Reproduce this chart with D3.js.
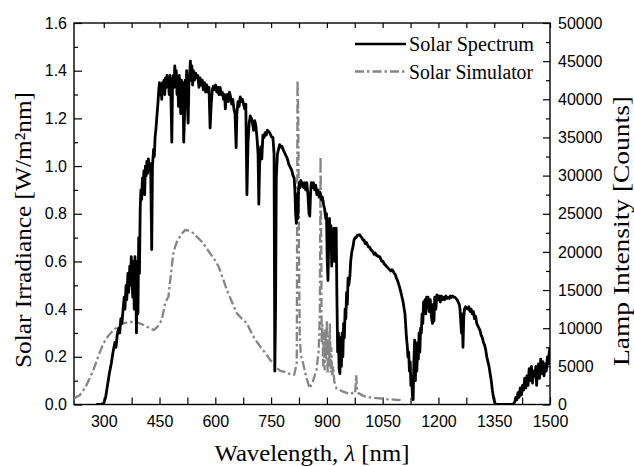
<!DOCTYPE html>
<html><head><meta charset="utf-8">
<script src="https://cdn.jsdelivr.net/npm/d3@7"></script>
<style>
body{margin:0;background:#fff;}
svg{display:block;}
.tick text{font-family:"Liberation Sans",Arial,sans-serif;font-size:16px;fill:#000;}
</style></head>
<body>
<svg id="chart" width="634" height="466"></svg>
<script>
// ---- Data ----
const specWavelength = [280,290,300,305,310,315,320,325,330,333,336,340,343,346,349,352,355,357,360,362,365,367,370,372,374,376,378,380,382,384,386,388,390,392,394,396,398,400,402,404,406,408,410,412,414,416,418,420,423,426,429,431,434,436,438,440,443,446,448,450,452,454,456,458,460,462,464,466,468,470,472,474,476,478,480,483,485,487,489,491,493,495,497,499,501,503,505,507,509,511,513,515,517,519,521,523,525,527,529,531,533,535,537,539,541,544,547,550,553,556,559,562,565,568,571,574,577,580,583,586,589,592,595,598,601,604,607,610,613,616,619,622,625,627,629,632,635,638,641,644,647,650,653,656,658,661,664,667,670,673,676,679,682,685,688,691,694,697,700,703,706,709,712,715,717,719,722,725,728,731,734,737,740,743,746,749,752,755,758,760,762,764,767,770,773,776,779,782,785,788,791,794,797,800,803,806,809,812,814,816,818,820,822,824,826,828,830,832,834,837,840,843,846,849,852,854,856,858,861,864,867,870,873,876,879,882,885,888,891,894,897,899,901,903,905,907,909,911,913,915,917,919,921,923,925,927,929,931,933,935,937,939,941,943,945,947,949,951,953,955,957,959,962,964,967,970,973,976,979,982,985,988,991,994,997,1000,1003,1006,1009,1012,1015,1018,1021,1024,1027,1030,1033,1036,1039,1042,1045,1048,1051,1054,1057,1060,1063,1066,1069,1072,1075,1078,1081,1084,1087,1090,1093,1096,1099,1102,1105,1108,1110,1112,1114,1116,1118,1120,1122,1124,1126,1128,1130,1132,1134,1136,1138,1140,1142,1144,1146,1148,1150,1152,1154,1156,1158,1160,1162,1164,1166,1168,1170,1172,1175,1178,1181,1184,1186,1188,1190,1193,1196,1199,1202,1205,1208,1211,1214,1217,1220,1223,1226,1229,1232,1235,1238,1241,1244,1247,1250,1253,1256,1258,1260,1262,1264,1266,1268,1270,1273,1276,1279,1282,1285,1288,1291,1294,1297,1300,1303,1306,1309,1312,1315,1318,1321,1324,1327,1330,1333,1336,1339,1342,1345,1348,1351,1354,1400,1405,1408,1411,1414,1417,1420,1423,1426,1429,1432,1435,1438,1441,1444,1447,1450,1453,1456,1459,1462,1464,1466,1469,1472,1475,1478,1481,1484,1487,1490,1493,1496,1498,1500];
const specIrradiance = [0,0,0.005,0.03,0.08,0.13,0.17,0.22,0.26,0.24,0.29,0.32,0.30,0.36,0.34,0.40,0.45,0.40,0.50,0.44,0.55,0.47,0.58,0.50,0.62,0.52,0.45,0.60,0.40,0.62,0.50,0.30,0.60,0.38,0.70,0.55,0.82,0.90,0.86,0.95,0.91,0.98,0.88,1.00,0.96,1.02,0.97,1.03,0.98,1.01,0.65,1.00,1.07,1.04,1.12,1.15,1.21,1.27,1.32,1.35,1.30,1.33,1.28,1.35,1.32,1.36,1.30,1.37,1.33,1.38,1.34,1.36,1.30,1.38,1.35,1.10,1.34,1.38,1.33,1.42,1.38,1.40,1.30,1.36,1.25,1.38,1.33,1.22,1.36,1.30,1.35,1.10,1.20,1.36,1.30,1.40,1.25,1.18,1.35,1.38,1.44,1.36,1.42,1.34,1.40,1.36,1.39,1.37,1.38,1.33,1.37,1.34,1.36,1.32,1.35,1.31,1.34,1.31,1.33,1.16,1.26,1.32,1.335,1.32,1.34,1.31,1.33,1.30,1.33,1.30,1.31,1.28,1.30,1.24,1.29,1.30,1.27,1.31,1.29,1.26,1.28,1.24,1.22,1.077,1.22,1.27,1.25,1.29,1.27,1.28,1.26,1.24,1.26,0.88,1.10,1.18,1.21,1.20,1.18,1.15,1.19,1.17,1.12,1.05,0.84,1.00,1.08,1.03,1.13,1.12,1.14,1.13,1.15,1.146,1.14,1.13,1.12,1.12,1.05,0.14,0.40,0.95,1.05,1.07,1.09,1.08,1.083,1.07,1.06,1.05,1.04,1.03,1.01,1.00,0.99,0.98,0.96,0.95,0.90,0.80,0.76,0.88,0.78,0.90,0.93,0.91,0.94,0.92,0.93,0.91,0.93,0.90,0.93,0.88,0.80,0.79,0.88,0.93,0.91,0.93,0.90,0.92,0.88,0.90,0.87,0.89,0.86,0.87,0.84,0.82,0.78,0.80,0.60,0.52,0.68,0.78,0.66,0.75,0.58,0.70,0.62,0.74,0.60,0.68,0.74,0.45,0.22,0.30,0.15,0.13,0.28,0.16,0.30,0.20,0.34,0.28,0.40,0.36,0.47,0.42,0.53,0.50,0.54,0.60,0.64,0.66,0.69,0.70,0.70,0.71,0.71,0.712,0.705,0.70,0.69,0.69,0.675,0.68,0.67,0.66,0.66,0.65,0.645,0.64,0.63,0.635,0.625,0.625,0.62,0.62,0.61,0.60,0.60,0.59,0.585,0.58,0.575,0.57,0.565,0.56,0.565,0.56,0.55,0.545,0.53,0.52,0.505,0.49,0.47,0.45,0.43,0.40,0.38,0.33,0.28,0.25,0.20,0.22,0.14,0.18,0.08,0.12,0.04,0.02,0.18,0.27,0.10,0.25,0.14,0.26,0.19,0.30,0.22,0.32,0.30,0.38,0.34,0.43,0.40,0.44,0.38,0.45,0.41,0.45,0.39,0.44,0.37,0.34,0.42,0.35,0.45,0.40,0.46,0.44,0.455,0.43,0.455,0.44,0.45,0.44,0.455,0.445,0.45,0.445,0.455,0.45,0.455,0.45,0.45,0.445,0.44,0.43,0.42,0.40,0.35,0.30,0.38,0.24,0.36,0.40,0.41,0.404,0.40,0.41,0.39,0.40,0.38,0.39,0.36,0.37,0.34,0.33,0.32,0.31,0.29,0.28,0.26,0.25,0.23,0.20,0.18,0.16,0.13,0.10,0.06,0.03,0.01,0,0,0.01,0.03,0.02,0.05,0.03,0.07,0.04,0.08,0.06,0.11,0.07,0.12,0.08,0.15,0.10,0.16,0.09,0.14,0.12,0.16,0.08,0.14,0.17,0.11,0.19,0.13,0.18,0.12,0.17,0.14,0.20,0.17,0.22,0.24];

const simWavelength = [220,235,250,262,272,285,299,312,326,340,353,367,380,393,407,420,434,445,456,462,465,470,474,478,483,487,492,498,505,512,519,530,541,552,564,575,586,598,609,620,631,645,658,672,685,694,703,712,721,735,748,757,766,775,784,795,806,812,815,819,821,823,825,827,830,836,845,854,862,872,878,881,883,885,886,888,890,892,894,896,898,900,902,904,906,908,910,912,914,917,920,926,935,944,955,965,972,976,979,981,985,995,1006,1020,1042,1060,1080,1096,1100];
const simCounts = [800,1200,2200,3400,4500,6300,8000,9000,9760,10300,10640,10800,10850,10700,10420,10100,9760,10200,11070,12500,13260,13800,14130,16000,18060,19800,20680,21500,22000,22500,22870,22800,22440,21900,21340,20600,19810,19000,18060,16600,15010,13400,11950,11200,10640,9700,8890,8200,7580,6700,5830,5300,4740,4400,4300,4100,3870,3900,4520,5500,42530,38000,20000,9000,6500,5400,3500,2120,3000,4500,7000,12000,32480,20000,8000,10500,5000,9500,4500,10000,6000,11000,4000,9000,5000,10640,4200,7500,3640,5000,3000,2120,1900,1680,1500,1400,1600,1500,3870,1800,1500,1200,1020,900,810,700,650,590,200];

const xMajorTicks = [300,450,600,750,900,1050,1200,1350,1500];
const xMinorTicks = [375,525,675,825,975,1125,1275,1425];
const yLeftMajor = [0,0.2,0.4,0.6,0.8,1.0,1.2,1.4,1.6];
const yLeftMinor = [0.1,0.3,0.5,0.7,0.9,1.1,1.3,1.5];
const yRightMajor = [0,5000,10000,15000,20000,25000,30000,35000,40000,45000,50000];
const yRightMinor = [2500,7500,12500,17500,22500,27500,32500,37500,42500,47500];
const seriesNames = ["Solar Spectrum","Solar Simulator"];

// ---- Layout ----
const L = 74, R = 550, T = 23, B = 404.5;
const svg = d3.select("#chart");
const x = d3.scaleLinear().domain([220,1500]).range([L,R]);
const yL = d3.scaleLinear().domain([0,1.6]).range([B,T]);
const yR = d3.scaleLinear().domain([0,50000]).range([B,T]);

svg.append("defs").append("clipPath").attr("id","clip")
  .append("rect").attr("x",L).attr("y",T).attr("width",R-L).attr("height",B-T);

function styleAxis(g){ g.select(".domain").remove(); g.selectAll("line").attr("stroke","#000").attr("stroke-width",1.2); }

svg.append("g").attr("transform",`translate(0,${B})`)
  .call(d3.axisBottom(x).tickValues(xMajorTicks).tickSize(-7).tickSizeOuter(0).tickPadding(11).tickFormat(d3.format("d")))
  .call(styleAxis);
svg.append("g").attr("transform",`translate(0,${B})`)
  .call(d3.axisBottom(x).tickValues(xMinorTicks).tickSize(-7).tickSizeOuter(0).tickFormat(""))
  .call(styleAxis);
svg.append("g").attr("transform",`translate(0,${T})`)
  .call(d3.axisTop(x).tickValues(xMajorTicks.concat(xMinorTicks)).tickSize(-5).tickSizeOuter(0).tickFormat(""))
  .call(styleAxis);
svg.append("g").attr("transform",`translate(${L},0)`)
  .call(d3.axisLeft(yL).tickValues(yLeftMajor).tickSize(-8).tickSizeOuter(0).tickPadding(7).tickFormat(d3.format(".1f")))
  .call(styleAxis);
svg.append("g").attr("transform",`translate(${L},0)`)
  .call(d3.axisLeft(yL).tickValues(yLeftMinor).tickSize(-4).tickSizeOuter(0).tickFormat(""))
  .call(styleAxis);
svg.append("g").attr("transform",`translate(${R},0)`)
  .call(d3.axisRight(yR).tickValues(yRightMajor).tickSize(-7).tickSizeOuter(0).tickPadding(8).tickFormat(d3.format("d")))
  .call(styleAxis);
svg.append("g").attr("transform",`translate(${R},0)`)
  .call(d3.axisRight(yR).tickValues(yRightMinor).tickSize(-4).tickSizeOuter(0).tickFormat(""))
  .call(styleAxis);

svg.append("rect").attr("x",L).attr("y",T).attr("width",R-L).attr("height",B-T)
  .attr("fill","none").attr("stroke","#000").attr("stroke-width",1.4);

const plot = svg.append("g").attr("clip-path","url(#clip)");
const simData = simWavelength.map((w,i)=>[w,simCounts[i]]);
const specData = specWavelength.map((w,i)=>[w,specIrradiance[i]]);
plot.append("path").datum(simData)
  .attr("d", d3.line().x(d=>x(d[0])).y(d=>yR(d[1])))
  .attr("fill","none").attr("stroke","#858585").attr("stroke-width",2.3)
  .attr("stroke-dasharray","9,3,2.5,3");
plot.append("path").datum(specData)
  .attr("d", d3.line().x(d=>x(d[0])).y(d=>yL(d[1])))
  .attr("fill","none").attr("stroke","#000").attr("stroke-width",2.8).attr("stroke-linejoin","round");

const leg = svg.append("g");
leg.append("line").attr("x1",355).attr("x2",406).attr("y1",44).attr("y2",44).attr("stroke","#000").attr("stroke-width",2.6);
leg.append("line").attr("x1",355).attr("x2",406).attr("y1",71.5).attr("y2",71.5).attr("stroke","#858585").attr("stroke-width",2.3).attr("stroke-dasharray","9,3,2.5,3");
leg.selectAll("text.lg").data(seriesNames).enter().append("text")
  .attr("x",409).attr("y",(d,i)=>51+i*27.5)
  .attr("font-family","'Liberation Serif','Times New Roman',serif").attr("font-size",20)
  .attr("textLength",(d,i)=>i===0?125:124).attr("lengthAdjust","spacingAndGlyphs")
  .text(d=>d);

const serif = "'Liberation Serif','Times New Roman',serif";
const xt = svg.append("text").attr("x",312).attr("y",461).attr("text-anchor","middle")
  .attr("font-family",serif).attr("font-size",23)
  .attr("textLength",195).attr("lengthAdjust","spacingAndGlyphs");
xt.append("tspan").text("Wavelength, ");
xt.append("tspan").attr("font-style","italic").text("\u03BB");
xt.append("tspan").text("  [nm]");
svg.append("text").attr("transform","translate(31,230) rotate(-90)").attr("text-anchor","middle")
  .attr("font-family",serif).attr("font-size",23)
  .attr("textLength",276).attr("lengthAdjust","spacingAndGlyphs")
  .text("Solar Irradiance [W/m\u00B2nm]");
svg.append("text").attr("transform","translate(629,231) rotate(-90)").attr("text-anchor","middle")
  .attr("font-family",serif).attr("font-size",23)
  .attr("textLength",270).attr("lengthAdjust","spacingAndGlyphs")
  .text("Lamp Intensity [Counts]");
</script>
</body></html>
